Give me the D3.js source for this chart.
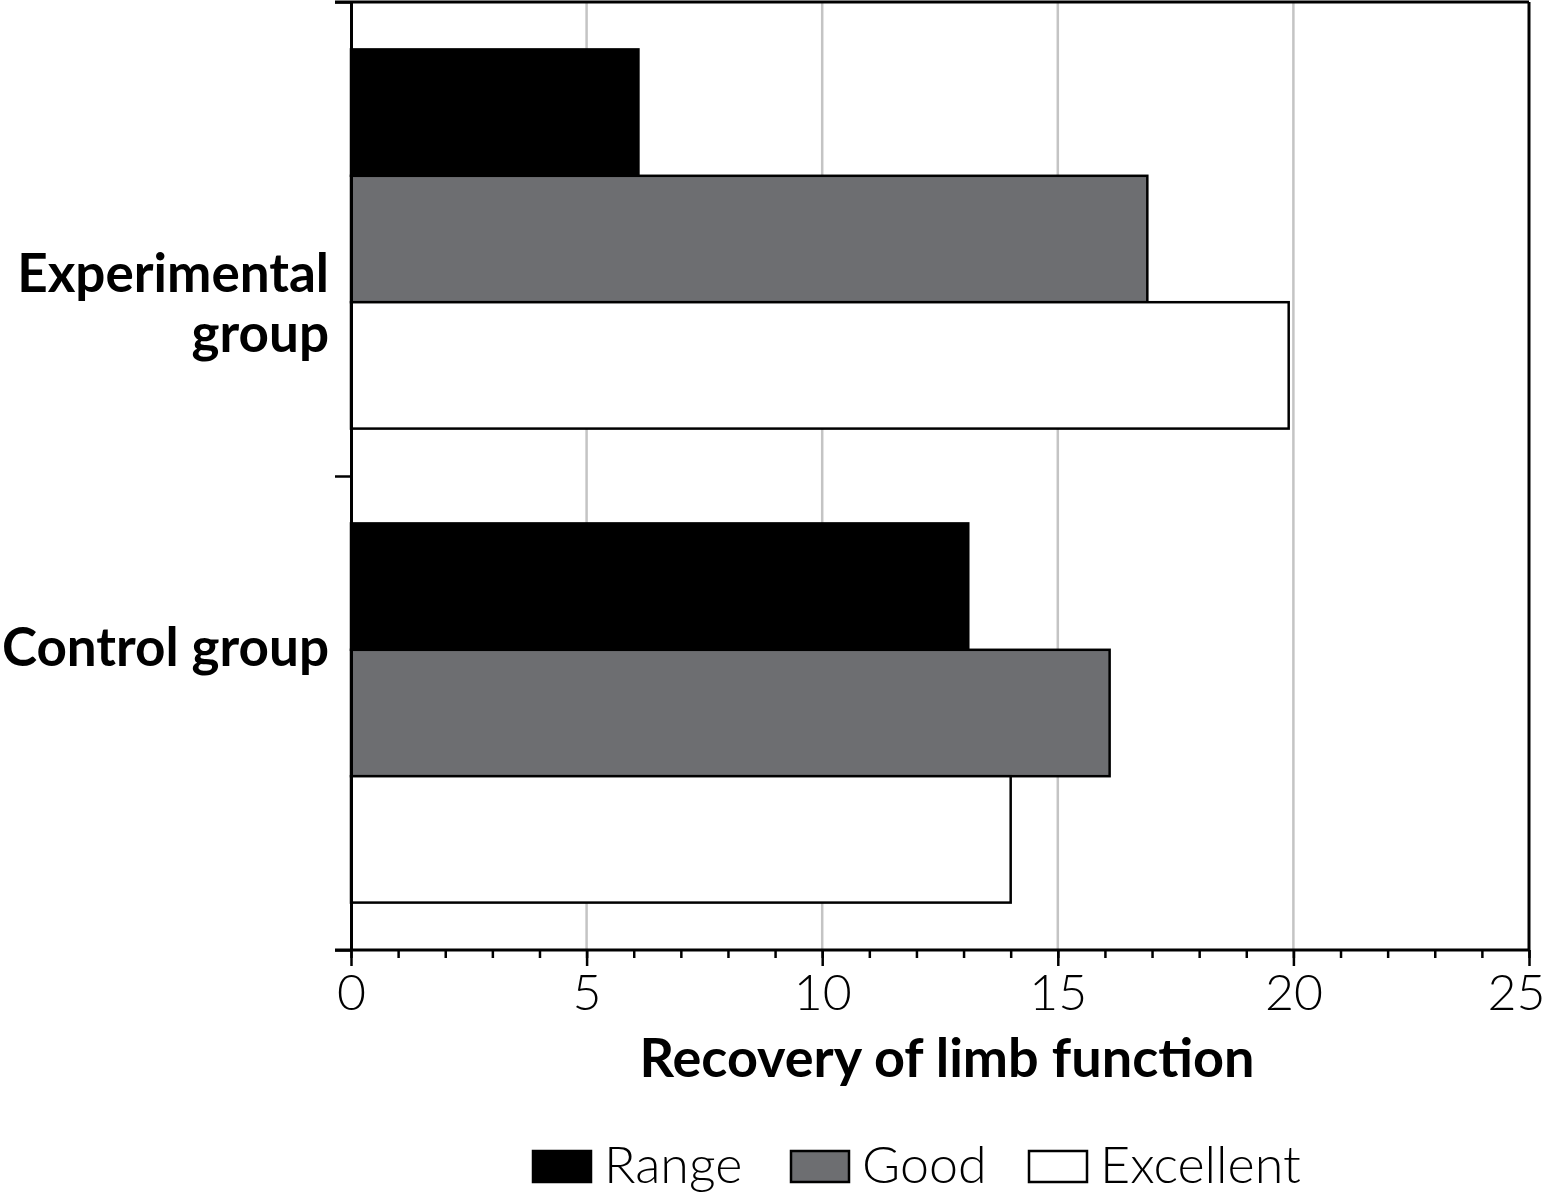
<!DOCTYPE html>
<html>
<head>
<meta charset="utf-8">
<script src="https://cdn.jsdelivr.net/npm/d3@7"></script>
<style>
  body { margin: 0; background: #fff; }
  text { font-family: Lato, "Noto Sans", sans-serif; }
</style>
</head>
<body>
<div id="chart"></div>
<script>
// groups, top to bottom
var groups = ["Experimental group", "Control group"];
// series names
var series = ["Range", "Good", "Excellent"];
// values per series, in group order
var rangeValues = [6.1, 13.1];
var goodValues = [16.9, 16.1];
var excellentValues = [19.9, 14.0];
var xTicks = [0, 5, 10, 15, 20, 25];

var colors = { "Range": "#000000", "Good": "#6d6e71", "Excellent": "#ffffff" };

var data = groups.map(function(g, i) {
  return {
    group: g,
    values: [
      { key: "Range", value: rangeValues[i] },
      { key: "Good", value: goodValues[i] },
      { key: "Excellent", value: excellentValues[i] }
    ]
  };
});

// dimensions
var margin = {top: 2, right: 17, bottom: 245, left: 351},
    width = 1546 - margin.left - margin.right,
    height = 1195 - margin.top - margin.bottom;

var svg = d3.select("#chart")
  .append("svg")
    .attr("width", 1546)
    .attr("height", 1195)
    .style("display", "block")
  .append("g")
    .attr("transform", "translate(" + margin.left + "," + margin.top + ")");

var x = d3.scaleLinear().domain([0, 25]).range([0, width]);

var y0 = d3.scaleBand()
  .domain(groups)
  .range([0, height])
  .paddingInner(0.2)
  .paddingOuter(0.1);

var y1 = d3.scaleBand()
  .domain(series)
  .range([0, y0.bandwidth()]);

// gridlines
svg.append("g")
  .selectAll("line")
  .data(xTicks.filter(function(d) { return d > 0 && d < 25; }))
  .enter().append("line")
    .attr("x1", function(d) { return x(d); })
    .attr("x2", function(d) { return x(d); })
    .attr("y1", 0)
    .attr("y2", height)
    .attr("stroke", "#c4c4c4")
    .attr("stroke-width", 2.5);

// bars
var grp = svg.selectAll(".grp")
  .data(data)
  .enter().append("g")
    .attr("class", "grp")
    .attr("transform", function(d) { return "translate(0," + y0(d.group) + ")"; });

grp.selectAll("rect")
  .data(function(d) { return d.values; })
  .enter().append("rect")
    .attr("x", x(0))
    .attr("y", function(d) { return y1(d.key); })
    .attr("width", function(d) { return x(d.value) - x(0); })
    .attr("height", y1.bandwidth())
    .attr("fill", function(d) { return colors[d.key]; })
    .attr("stroke", "#000")
    .attr("stroke-width", 2.5);

// frame: top and right
svg.append("line")
  .attr("x1", -16).attr("x2", width)
  .attr("y1", 0).attr("y2", 0)
  .attr("stroke", "#000").attr("stroke-width", 3);
svg.append("line")
  .attr("x1", width).attr("x2", width)
  .attr("y1", 0).attr("y2", height)
  .attr("stroke", "#000").attr("stroke-width", 3);

// x axis: minor ticks
var xMinor = svg.append("g")
  .attr("transform", "translate(0," + height + ")")
  .call(d3.axisBottom(x).tickValues(d3.range(0, 26)).tickSize(8).tickFormat(""));
xMinor.select(".domain").remove();
xMinor.selectAll("line").attr("stroke-width", 2.5);

// x axis: major ticks
var xAxis = svg.append("g")
  .attr("transform", "translate(0," + height + ")")
  .call(d3.axisBottom(x).tickValues(xTicks).tickSize(16).tickSizeOuter(0).tickPadding(8));
xAxis.select(".domain").attr("stroke-width", 3)
  .attr("d", "M-16,0H" + width);
xAxis.selectAll("line").attr("stroke-width", 2.5);
xAxis.selectAll("text")
  .attr("font-size", 50)
  .attr("font-weight", 300)
  .attr("fill", "#000");
// last label sits against the right edge
xAxis.selectAll(".tick text")
  .filter(function(d) { return d === 25; })
  .attr("text-anchor", "end")
  .attr("x", 16);

// y axis: boundary ticks
var yLin = d3.scaleLinear().domain([0, groups.length]).range([0, height]);
var yAxis = svg.append("g")
  .call(d3.axisLeft(yLin).tickValues(d3.range(0, groups.length + 1)).tickSize(16).tickSizeOuter(0).tickFormat(""));
yAxis.select(".domain").attr("stroke-width", 3);
yAxis.selectAll("line").attr("stroke-width", 2.5);

// category labels
var labelLines = [["Experimental", "group"], ["Control group"]];
var labelOffsets = [53, -47];
svg.selectAll(".cat")
  .data(groups)
  .enter().append("text")
    .attr("class", "cat")
    .attr("text-anchor", "end")
    .attr("font-size", 53)
    .attr("font-weight", 700)
    .attr("fill", "#000")
    .attr("transform", function(d, i) {
      return "translate(-22," + (y0(d) + y0.bandwidth() / 2 + labelOffsets[i]) + ")";
    })
    .each(function(d, i) {
      var t = d3.select(this);
      labelLines[i].forEach(function(line, j) {
        t.append("tspan").attr("x", 0).attr("dy", j === 0 ? 0 : 60).text(line);
      });
    });

// x axis title
svg.append("text")
  .attr("x", 947 - margin.left)
  .attr("y", 1077 - margin.top)
  .attr("text-anchor", "middle")
  .attr("font-size", 54)
  .attr("font-weight", 700)
  .attr("fill", "#000")
  .text("Recovery of limb function");

// legend
var legendX = [532, 790, 1028];
var legend = svg.selectAll(".legend")
  .data(series)
  .enter().append("g")
    .attr("class", "legend")
    .attr("transform", function(d, i) {
      return "translate(" + (legendX[i] - margin.left) + "," + (1150 - margin.top) + ")";
    });
legend.append("rect")
  .attr("x", 1).attr("y", 1)
  .attr("width", 58).attr("height", 31)
  .attr("fill", function(d) { return colors[d]; })
  .attr("stroke", "#000")
  .attr("stroke-width", 2.5);
legend.append("text")
  .attr("x", 72)
  .attr("y", 33)
  .attr("font-size", 52)
  .attr("font-weight", 300)
  .attr("fill", "#000")
  .text(function(d) { return d; });
</script>
</body>
</html>
